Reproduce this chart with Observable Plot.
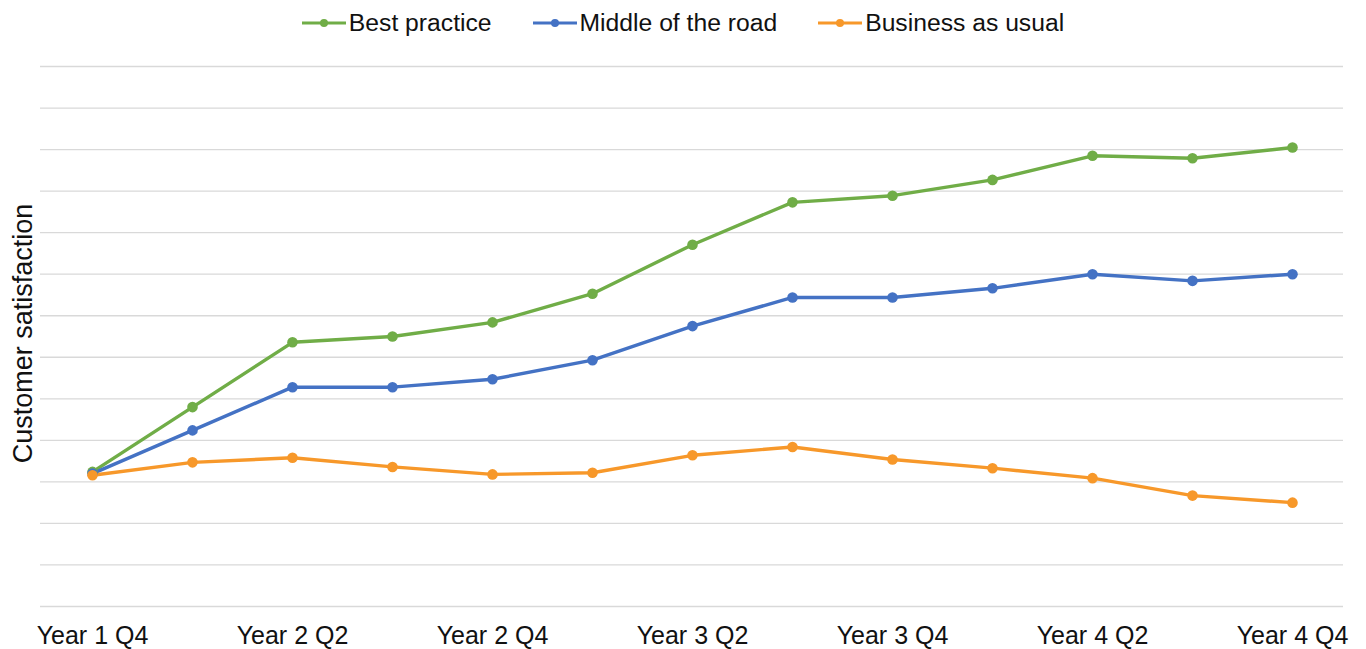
<!DOCTYPE html>
<html>
<head>
<meta charset="utf-8">
<script src="https://cdn.jsdelivr.net/npm/d3@7"></script>
<script src="https://cdn.jsdelivr.net/npm/@observablehq/plot@0.6"></script>
<style>
  html, body { margin: 0; padding: 0; background: #fff; }
  body { width: 1366px; height: 649px; overflow: hidden; font-family: "Liberation Sans", Arial, sans-serif; color: #111; }
  #legend { height: 45px; display: flex; justify-content: center; align-items: center; gap: 41px; font-size: 24.7px; box-sizing: border-box; padding-top: 1px; }
  .item { display: flex; align-items: center; gap: 3px; }
  .item svg { display: block; }
</style>
</head>
<body>
<div id="legend"></div>
<div id="chart"></div>
<script>
const categories = ["Year 1 Q4","Year 2 Q1","Year 2 Q2","Year 2 Q3","Year 2 Q4","Year 3 Q1","Year 3 Q2","Year 3 Q3","Year 3 Q4","Year 4 Q1","Year 4 Q2","Year 4 Q3","Year 4 Q4"];
const tickLabels = ["Year 1 Q4","Year 2 Q2","Year 2 Q4","Year 3 Q2","Year 3 Q4","Year 4 Q2","Year 4 Q4"];
const seriesNames = ["Best practice","Middle of the road","Business as usual"];
const seriesColors = ["#70AD47","#4472C4","#F7982A"];
const bestPractice = [3.24, 4.80, 6.36, 6.50, 6.84, 7.53, 8.71, 9.73, 9.89, 10.27, 10.85, 10.79, 11.05];
const middleOfTheRoad = [3.20, 4.24, 5.28, 5.28, 5.47, 5.93, 6.75, 7.44, 7.44, 7.66, 8.00, 7.84, 8.00];
const businessAsUsual = [3.16, 3.47, 3.58, 3.36, 3.18, 3.22, 3.64, 3.84, 3.54, 3.33, 3.09, 2.67, 2.50];
const gridValues = d3.range(0, 14);

const seriesValues = [bestPractice, middleOfTheRoad, businessAsUsual];
const data = seriesNames.flatMap((s, i) => categories.map((c, j) => ({series: s, period: c, value: seriesValues[i][j]})));

// Legend
const legend = document.getElementById("legend");
seriesNames.forEach((s, i) => {
  const item = document.createElement("div");
  item.className = "item";
  item.innerHTML = `<svg width="44" height="12"><line x1="0" y1="6" x2="44" y2="6" stroke="${seriesColors[i]}" stroke-width="3"/><circle cx="22" cy="6" r="4" fill="${seriesColors[i]}"/></svg><span>${s}</span>`;
  legend.appendChild(item);
});

const chart = Plot.plot({
  width: 1366,
  height: 604,
  marginLeft: 40,
  marginRight: 23,
  marginTop: 21,
  marginBottom: 43,
  style: {fontFamily: "Liberation Sans, Arial, sans-serif", fontSize: "25px", color: "#111", background: "#fff", overflow: "visible"},
  x: {type: "point", domain: categories, padding: 0.5},
  y: {domain: [0, 13]},
  color: {domain: seriesNames, range: seriesColors},
  marks: [
    Plot.ruleY(gridValues, {stroke: "#d9d9d9", strokeWidth: 1.3}),
    Plot.axisX({ticks: tickLabels, tickSize: 0, tickPadding: 20, label: null, fontSize: 25}),
    Plot.axisY({ticks: [], label: null}),
    Plot.text(["Customer satisfaction"], {frameAnchor: "left", textAnchor: "middle", rotate: -90, dx: -17, dy: -3, fontSize: 27, fill: "#111"}),
    Plot.line(data, {x: "period", y: "value", z: "series", stroke: "series", strokeWidth: 3.4}),
    Plot.dot(data, {x: "period", y: "value", fill: "series", r: 5.3})
  ]
});
document.getElementById("chart").appendChild(chart);
</script>
</body>
</html>
